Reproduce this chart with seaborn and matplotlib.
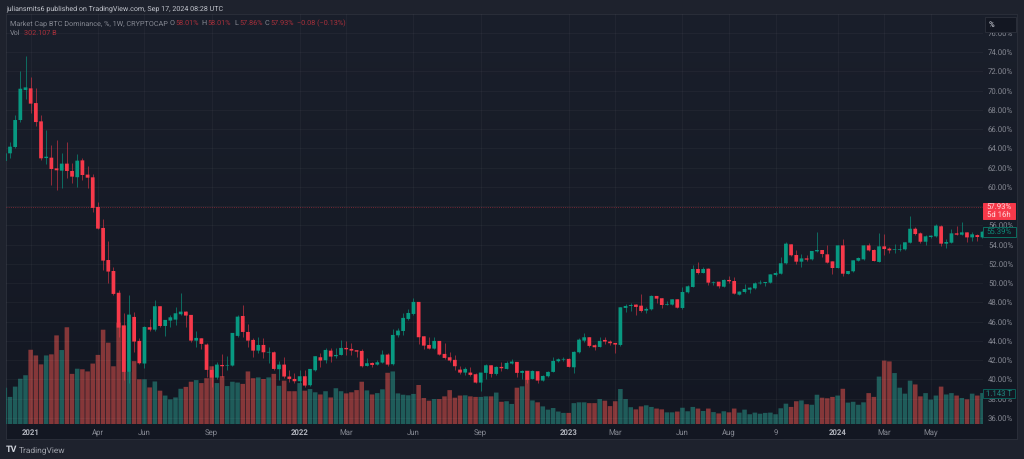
import numpy as np
import pandas as pd
import matplotlib
matplotlib.use('Agg')  # Non-interactive backend
import matplotlib.pyplot as plt
import seaborn as sns
from matplotlib.patches import Rectangle

# Weekly candles (percent of total market cap)
opens = [62.69, 63.48, 64.14, 66.94, 70.06, 70.23, 68.70, 66.80, 62.99, 63.03, 61.92, 61.68, 62.41, 61.65, 61.00, 62.75, 61.27, 60.99, 57.91, 55.73,
         52.40, 51.26, 49.00, 45.59, 40.78, 46.49, 44.00, 41.65, 45.42, 45.17, 47.60, 45.55, 46.11, 46.21, 46.77, 47.04, 46.70, 44.03, 44.27, 43.62,
         40.99, 40.19, 41.50, 41.44, 41.44, 44.52, 46.59, 44.93, 44.10, 42.99, 43.58, 42.79, 42.82, 41.06, 41.54, 40.30, 40.05, 39.81, 40.33, 39.40,
         40.95, 42.30, 41.99, 42.99, 42.41, 42.54, 43.27, 43.17, 43.03, 42.96, 41.40, 41.71, 41.54, 41.75, 42.58, 41.58, 44.58, 45.03, 46.28, 46.80,
         48.05, 44.48, 43.58, 43.20, 44.00, 42.65, 42.30, 42.03, 41.02, 40.71, 40.71, 40.54, 39.67, 40.68, 41.47, 40.57, 41.30, 41.09, 41.65, 41.82,
         40.68, 40.88, 40.05, 40.85, 39.88, 40.33, 40.78, 41.89, 42.06, 42.13, 41.26, 42.82, 44.03, 44.38, 43.55, 43.37, 44.10, 43.93, 43.79, 43.58,
         47.42, 47.63, 47.77, 47.66, 47.15, 47.28, 48.67, 48.43, 47.73, 47.77, 48.32, 47.42, 49.05, 49.60, 51.47, 51.05, 51.50, 50.05, 50.15, 49.63,
         50.33, 50.22, 48.80, 49.08, 49.32, 49.46, 49.98, 50.01, 50.05, 50.85, 50.98, 52.06, 54.03, 52.92, 52.23, 52.57, 52.47, 53.30, 53.44, 52.99,
         52.26, 51.57, 53.92, 50.95, 51.23, 52.33, 52.47, 53.92, 53.44, 52.20, 53.82, 53.58, 53.44, 53.47, 53.51, 54.20, 55.65, 55.17, 54.30, 54.79,
         54.86, 55.90, 54.10, 54.20, 55.17, 55.03, 55.27, 54.75, 54.99, 54.75]
highs = [63.50, 64.69, 67.43, 72.03, 73.62, 71.37, 70.26, 67.46, 65.90, 64.31, 64.87, 63.48, 64.69, 62.44, 63.41, 63.03, 62.20, 61.34, 58.46, 56.63,
         54.38, 51.71, 49.30, 46.87, 48.74, 47.04, 44.30, 45.59, 46.25, 48.22, 47.60, 46.18, 46.66, 47.49, 48.95, 47.10, 46.70, 45.07, 44.27, 43.76,
         41.40, 41.78, 42.65, 42.44, 44.83, 46.70, 47.73, 45.76, 44.27, 44.45, 44.27, 43.41, 42.99, 41.96, 42.30, 41.00, 40.64, 40.99, 40.99, 41.09,
         42.41, 42.72, 43.24, 43.24, 43.24, 44.10, 44.00, 43.76, 43.03, 43.20, 42.20, 41.85, 42.02, 43.06, 42.72, 45.24, 45.31, 46.87, 47.28, 48.43,
         48.05, 44.48, 44.38, 44.38, 44.00, 43.76, 42.89, 42.51, 41.40, 41.33, 41.26, 40.64, 40.71, 41.57, 41.47, 41.44, 41.85, 41.92, 42.09, 41.82,
         40.99, 40.88, 40.99, 40.85, 40.43, 40.85, 42.37, 42.23, 42.37, 42.23, 42.92, 44.27, 44.83, 44.38, 43.65, 44.45, 44.38, 44.10, 43.82, 47.49,
         47.84, 47.98, 47.84, 48.88, 47.56, 48.77, 48.67, 48.43, 48.19, 48.36, 48.32, 49.63, 49.81, 51.88, 52.23, 51.64, 51.60, 50.22, 50.15, 50.40,
         50.74, 50.67, 49.19, 49.91, 49.56, 50.12, 50.33, 50.15, 50.95, 51.29, 52.68, 54.30, 54.06, 53.44, 53.02, 52.92, 53.37, 55.27, 53.44, 53.92,
         52.26, 53.92, 54.58, 51.29, 52.40, 52.68, 53.96, 54.13, 53.51, 55.17, 55.10, 53.79, 54.06, 54.06, 54.30, 56.97, 55.79, 55.27, 54.96, 54.99,
         56.10, 56.00, 54.62, 55.65, 55.93, 56.35, 55.27, 55.34, 55.10, 55.40]
lows = [62.30, 63.03, 64.07, 66.77, 69.09, 67.63, 66.32, 62.79, 62.37, 60.19, 59.67, 59.85, 60.89, 60.37, 60.02, 60.71, 59.85, 57.36, 55.59, 51.37,
        50.05, 48.77, 44.45, 39.95, 39.67, 42.89, 41.60, 41.23, 45.03, 45.07, 45.49, 44.55, 45.49, 45.66, 46.70, 45.49, 43.93, 43.41, 43.13, 40.23,
        39.26, 40.02, 40.30, 41.00, 41.40, 44.45, 44.45, 43.41, 42.37, 42.72, 42.20, 41.68, 40.99, 39.95, 40.12, 39.78, 39.67, 39.60, 39.26, 39.33,
        40.88, 41.26, 41.68, 41.85, 42.20, 42.51, 42.54, 42.54, 42.37, 41.33, 41.40, 41.33, 41.50, 41.68, 41.44, 41.47, 44.45, 44.62, 46.18, 46.73,
        43.69, 43.17, 43.13, 43.17, 42.51, 42.10, 41.82, 40.99, 40.57, 40.43, 40.36, 39.60, 38.84, 40.09, 40.30, 40.50, 40.92, 41.06, 41.61, 40.30,
        40.02, 39.60, 40.02, 39.67, 39.81, 40.26, 40.75, 41.82, 41.89, 41.26, 40.71, 42.79, 43.93, 43.41, 43.06, 43.34, 43.69, 43.62, 42.79, 43.51,
        47.00, 47.15, 46.73, 47.04, 46.94, 47.21, 47.98, 47.46, 47.70, 47.70, 47.39, 47.32, 49.01, 49.56, 50.95, 51.02, 49.77, 49.77, 49.46, 49.56,
        50.05, 48.87, 48.77, 49.01, 48.98, 49.43, 49.91, 49.70, 49.98, 50.78, 50.95, 52.02, 52.82, 51.99, 51.71, 52.33, 52.40, 53.23, 52.75, 52.06,
        50.95, 51.54, 50.78, 50.91, 51.19, 52.26, 52.44, 53.34, 52.26, 52.16, 52.92, 53.09, 53.16, 53.37, 53.44, 54.13, 54.99, 54.13, 53.92, 54.72,
        54.82, 53.85, 53.68, 54.17, 54.96, 54.96, 54.24, 54.41, 54.41, 54.72]
closes = [63.48, 64.17, 66.94, 70.19, 70.33, 68.64, 66.73, 62.96, 63.13, 61.85, 61.72, 62.41, 61.65, 61.06, 62.72, 61.23, 60.95, 57.81, 55.66, 52.34,
          51.20, 48.88, 45.38, 40.78, 46.73, 43.93, 41.68, 45.45, 45.17, 47.60, 45.55, 46.18, 46.45, 46.87, 47.04, 46.63, 44.03, 44.31, 43.69, 40.99,
          40.19, 41.54, 41.37, 41.50, 44.83, 46.52, 44.93, 44.03, 42.99, 43.58, 42.82, 42.86, 41.09, 41.54, 40.30, 40.05, 39.81, 40.33, 39.36, 41.09,
          42.41, 41.96, 43.06, 42.37, 42.54, 43.27, 43.13, 42.99, 42.89, 41.37, 41.68, 41.50, 41.78, 42.58, 41.54, 44.62, 45.07, 46.39, 46.90, 48.05,
          44.38, 43.51, 43.20, 44.00, 42.58, 42.23, 41.96, 41.37, 40.71, 41.09, 40.47, 39.67, 40.71, 41.47, 40.57, 41.30, 41.16, 41.71, 41.85, 40.68,
          40.88, 39.95, 40.88, 39.88, 40.36, 40.78, 41.92, 42.09, 42.13, 41.30, 42.86, 44.13, 44.38, 43.48, 43.34, 44.00, 43.93, 43.76, 43.62, 47.49,
          47.63, 47.73, 47.53, 47.11, 47.32, 48.67, 48.39, 47.73, 47.80, 48.32, 47.45, 49.08, 49.67, 51.47, 51.05, 51.47, 50.05, 50.12, 49.67, 50.33,
          50.19, 48.91, 49.12, 49.39, 49.53, 49.98, 50.05, 50.12, 50.91, 51.05, 52.06, 54.10, 52.89, 52.23, 52.57, 52.44, 53.34, 53.44, 53.02, 52.13,
          51.57, 53.92, 50.98, 51.26, 52.37, 52.61, 53.92, 53.40, 52.30, 53.82, 53.54, 53.40, 53.51, 53.54, 54.24, 55.65, 55.10, 54.30, 54.86, 54.93,
          55.97, 54.10, 54.27, 55.17, 55.03, 55.27, 54.75, 55.07, 54.79, 55.34]

# Volume per week, in trillions
volumes = [1.34, 1.00, 1.38, 1.67, 1.80, 2.74, 2.53, 2.20, 2.53, 2.57, 3.27, 2.73, 3.57, 1.85, 2.04, 2.02, 1.94, 2.23, 2.55, 3.48,
           3.00, 2.13, 3.74, 3.64, 1.92, 2.32, 1.65, 1.65, 1.35, 1.57, 1.23, 1.05, 0.91, 0.98, 1.30, 1.37, 1.56, 1.62, 1.51, 1.69,
           2.13, 1.51, 1.77, 1.40, 1.56, 1.53, 1.48, 1.94, 1.69, 1.72, 1.66, 1.72, 1.85, 1.41, 1.60, 1.21, 1.21, 1.51, 1.23, 1.29,
           1.17, 1.09, 1.21, 0.98, 1.32, 1.21, 1.13, 1.17, 1.25, 1.56, 1.24, 1.09, 1.14, 1.28, 1.89, 1.94, 1.13, 1.08, 1.06, 1.11,
           1.44, 0.96, 0.86, 0.92, 0.92, 1.02, 1.25, 0.97, 1.05, 1.06, 1.02, 1.00, 1.00, 1.02, 1.02, 1.16, 0.82, 0.84, 0.74, 1.34,
           1.39, 1.97, 0.87, 0.80, 0.65, 0.53, 0.59, 0.46, 0.41, 0.41, 0.77, 0.80, 0.80, 0.77, 0.77, 0.92, 0.86, 0.66, 0.84, 1.29,
           0.92, 0.62, 0.54, 0.65, 0.69, 0.63, 0.57, 0.54, 0.43, 0.43, 0.46, 0.60, 0.47, 0.63, 0.57, 0.48, 0.57, 0.44, 0.39, 0.47,
           0.43, 0.57, 0.42, 0.53, 0.36, 0.42, 0.38, 0.41, 0.42, 0.36, 0.58, 0.75, 0.63, 0.84, 0.87, 0.73, 0.71, 1.08, 0.97, 0.95,
           1.00, 1.05, 1.30, 0.79, 0.82, 0.71, 0.80, 1.14, 1.00, 1.75, 2.34, 2.31, 1.88, 1.34, 1.12, 1.60, 1.46, 1.02, 1.14, 0.90,
           1.05, 1.38, 1.09, 1.14, 1.05, 0.96, 0.91, 1.12, 1.05, 1.143]

# Time axis
tick_weeks = [5, 18, 27, 40, 57, 66, 79, 92, 109, 118, 131, 140, 149, 161, 170, 179]
tick_labels = ['2021', 'Apr', 'Jun', 'Sep', '2022', 'Mar', 'Jun', 'Sep', '2023', 'Mar', 'Jun', 'Aug', '9', '2024', 'Mar', 'May']
price_ticks = list(range(36, 78, 2))

# Colours
UP = '#089981'
DOWN = '#f7394a'
VOL_UP = '#1f5c5a'
VOL_DOWN = '#853739'
FRAME = '#1e222d'
TEXT = '#b2b5be'
MUTED = '#868993'
W, H = 1024, 459


def px(x, y):
    return x / W, 1 - y / H


def add_box(ax, x0, y0, x1, y1, face, edge):
    ax.add_patch(Rectangle(px(x0, y1), (x1 - x0) / W, (y1 - y0) / H, transform=ax.figure.transFigure,
                           facecolor=face, edgecolor=edge, linewidth=0.7, clip_on=False, zorder=10))


def add_label(ax, x, y, text, color, **kwargs):
    ax.text(*px(x, y), text, transform=ax.figure.transFigure, color=color, fontsize=5.6,
            ha='center', va='center', clip_on=False, zorder=11, **kwargs)


def plot_header(fig):
    fig.text(*px(6, 8.5), 'juliansmits6 published on TradingView.com, Sep 17, 2024 08:28 UTC',
             color='#c3c6ce', fontsize=5.1, va='center')
    # Legend line, each piece placed where the picture has it
    pieces = [(10, 'Market Cap BTC Dominance, %, 1W, CRYPTOCAP', MUTED), (170, 'O', MUTED), (175, '58.01%', '#a9303b'),
              (201.5, 'H', MUTED), (207, '58.01%', '#a9303b'), (234, 'L', MUTED), (239, '57.86%', '#a9303b'),
              (265, 'C', MUTED), (270, '57.93%', '#a9303b'), (297, '\u22120.08 (\u22120.13%)', '#a9303b')]
    for x, text, color in pieces:
        fig.text(*px(x, 23.5), text, color=color, fontsize=5.2, va='center')
    fig.text(*px(10, 33), 'Vol', color=MUTED, fontsize=5.2, va='center')
    fig.text(*px(24, 33), '302.107 B', color='#a9303b', fontsize=5.2, va='center')


def plot_chart():
    sns.set_theme(style="dark", rc={'figure.facecolor': FRAME, 'axes.facecolor': 'none'})
    plt.rcParams['font.family'] = 'Roboto'
    plt.rcParams['text.hinting'] = 'none'  # keeps small text at its natural width

    weeks = np.arange(len(closes))
    o, h, l, c = np.array(opens), np.array(highs), np.array(lows), np.array(closes)
    rising = c >= o
    df = pd.DataFrame({'week': weeks, 'volume': volumes, 'side': np.where(rising, 'up', 'down')})

    fig = plt.figure(figsize=(W / 100, H / 100), dpi=100)

    # Chart background fades from top to bottom
    ax_bg = fig.add_axes([5.5 / W, 1 - 439 / H, 1011.5 / W, 425 / H], zorder=0)
    top, bottom = matplotlib.colors.to_rgb('#1a1f2b'), matplotlib.colors.to_rgb('#131722')
    fade = np.linspace(top, bottom, 256).reshape(256, 1, 3)
    ax_bg.imshow(fade, aspect='auto')
    ax_bg.set_xticks([])
    ax_bg.set_yticks([])
    for spine in ax_bg.spines.values():
        spine.set_color('#2a2e39')
        spine.set_linewidth(0.7)

    rect = [6 / W, 1 - 424 / H, 977 / W, 410 / H]

    # Volume sits under the candles
    ax_vol = fig.add_axes(rect, zorder=1)
    sns.barplot(data=df, x='week', y='volume', hue='side', palette={'up': VOL_UP, 'down': VOL_DOWN},
                native_scale=True, dodge=False, width=0.88, saturation=1, legend=False, linewidth=0, ax=ax_vol)
    for bar in ax_vol.patches:
        bar.set_snap(False)  # even spacing, no rounding to whole pixels
    ax_vol.set_xlim(0.23, 189.1)
    ax_vol.set_ylim(0, 15.13)
    ax_vol.axis('off')

    ax = fig.add_axes(rect, zorder=2)
    ax.vlines(weeks[rising], l[rising], h[rising], color=UP, linewidth=0.7, alpha=0.65)
    ax.vlines(weeks[~rising], l[~rising], h[~rising], color=DOWN, linewidth=0.7, alpha=0.55)
    up_bars = ax.bar(weeks[rising], (c - o)[rising], bottom=o[rising], width=0.72, color=UP, linewidth=0)
    down_bars = ax.bar(weeks[~rising], (c - o)[~rising], bottom=o[~rising], width=0.72, color=DOWN, linewidth=0)
    for bar in list(up_bars) + list(down_bars):
        bar.set_snap(False)
    ax.axhline(57.93, color=DOWN, linewidth=0.6, linestyle=':', alpha=0.55)

    ax.set_xlim(0.23, 189.1)
    ax.set_ylim(35.37, 77.95)
    ax.set_xticks(tick_weeks)
    ax.set_xticklabels(tick_labels)
    ax.set_yticks(price_ticks)
    ax.set_yticklabels([f"{p:.2f}%" for p in price_ticks])
    ax.yaxis.tick_right()
    ax.tick_params(axis='y', length=0, pad=3.6, labelsize=5.6, labelcolor=MUTED)
    ax.tick_params(axis='x', length=0, pad=3.6, labelsize=5.6, labelcolor=MUTED)
    for label in ax.get_xticklabels():
        if label.get_text().startswith('20'):
            label.set_fontweight('bold')
            label.set_color(TEXT)
    ax.grid(True, color='white', alpha=0.035, linewidth=0.7)
    ax.set_axisbelow(True)
    sns.despine(ax=ax, left=True, bottom=True, right=True, top=True)

    # Boxes over the price scale
    add_box(ax, 985, 17, 1016, 32, '#131722', '#2a2e39')
    ax.text(*px(989, 24.5), '%', transform=fig.transFigure, color=TEXT, fontsize=5.6, fontweight='bold',
            va='center', zorder=11, clip_on=False)
    add_box(ax, 983, 203, 1015, 219.5, DOWN, DOWN)
    add_label(ax, 999, 207, '57.93%', '#ffd9dc')
    add_label(ax, 999, 215, '5d 16h', '#ffd9dc')
    add_box(ax, 983, 227.5, 1015.5, 236.5, '#131722', '#0b6f60')
    add_label(ax, 999, 232, '55.39%', '#0e8a78')
    add_box(ax, 983, 389, 1015, 398, '#131722', '#0b5f58')
    add_label(ax, 999, 393.5, '1.143 T', '#1f8a80')

    plot_header(fig)

    # Footer mark
    fig.text(*px(6, 450), 'TV', color='#d1d4dc', fontsize=6.5, fontweight='bold', va='center')
    fig.text(*px(19, 450), 'TradingView', color='#a0a3ab', fontsize=6.0, va='center')

    plt.savefig('out.png', dpi=100)
    plt.close()


if __name__ == '__main__':
    plot_chart()
